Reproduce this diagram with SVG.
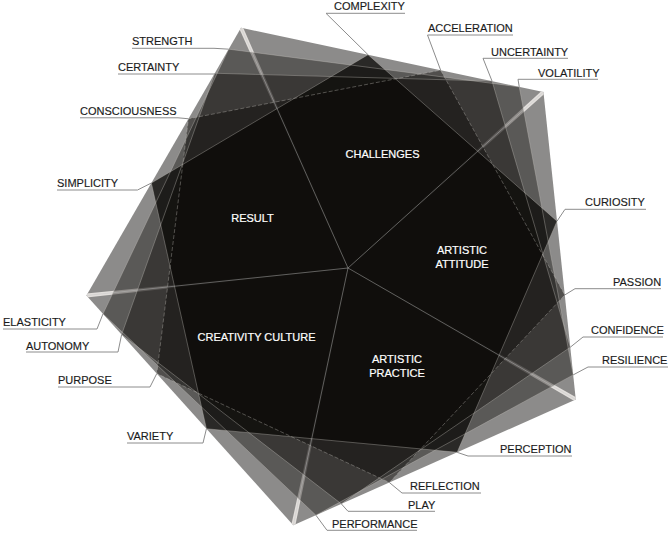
<svg xmlns="http://www.w3.org/2000/svg" width="671" height="534" viewBox="0 0 671 534">
<style>
.lay{fill:#0a0806}
.l0{fill-opacity:0.47}
.l1{fill-opacity:0.38}
.l2{fill-opacity:0.4}
.l3{fill-opacity:0.46}
.l4{fill-opacity:0.75}
.edge{fill:none;stroke:#c8c3be;stroke-opacity:0.45;stroke-width:0.8}
.dash{stroke-dasharray:4 2}
.wedge{fill:#ebe8e4;fill-opacity:0.9}
.sec{stroke:#c4c4c4;stroke-opacity:0.55;stroke-width:0.8;fill:none}
.lbl{font-family:"Liberation Sans",Arial,sans-serif;font-size:11px;fill:#1a1a1a;stroke:#1a1a1a;stroke-width:0.15}
.in{font-family:"Liberation Sans",Arial,sans-serif;font-size:11px;fill:#fff;stroke:#fff;stroke-width:0.2;text-anchor:middle}
.lead{fill:none;stroke:#8c8c8c;stroke-width:1}
</style>
<defs>
<clipPath id="outer"><polygon points="241.03,27.74 543.45,92.02 575.77,399.5 293.32,525.25 86.44,295.49"/></clipPath>
</defs>
<rect width="671" height="534" fill="#fff"/>
<g id="layers">
<polygon class="lay l0" points="241.03,27.74 543.45,92.02 575.77,399.5 293.32,525.25 86.44,295.49"/>
<g clip-path="url(#outer)">
<polygon class="wedge" points="242.86,26.93 239.2,28.55 347.63,268.16 348.37,267.84"/>
<polygon class="wedge" points="544.79,93.51 542.11,90.53 347.73,267.7 348.27,268.3"/>
<polygon class="wedge" points="574.77,401.23 576.77,397.77 348.2,267.65 347.8,268.35"/>
<polygon class="wedge" points="291.36,524.83 295.28,525.67 348.39,268.08 347.61,267.92"/>
<polygon class="wedge" points="86.23,293.5 86.65,297.48 348.04,268.4 347.96,267.6"/>
</g>
<polygon class="lay l1" points="519.26,86.88 573.18,374.9 315.92,515.19 102.99,313.87 228.66,49.16"/>
<polygon class="lay l2" points="492.04,81.09 570.28,347.23 341.34,503.87 121.61,334.55 214.75,73.26"/>
<polygon class="lay l3" points="440.63,70.16 564.78,294.96 389.35,482.49 156.78,373.61 188.47,118.77"/>
<polygon class="lay l4" points="368.05,54.74 557.02,221.16 457.14,452.32 206.43,428.75 151.37,183.03"/>
<polygon class="edge" points="519.26,86.88 573.18,374.9 315.92,515.19 102.99,313.87 228.66,49.16"/>
<polygon class="edge" points="492.04,81.09 570.28,347.23 341.34,503.87 121.61,334.55 214.75,73.26"/>
<polygon class="edge dash" points="440.63,70.16 564.78,294.96 389.35,482.49 156.78,373.61 188.47,118.77"/>
<polygon class="edge" points="368.05,54.74 557.02,221.16 457.14,452.32 206.43,428.75 151.37,183.03"/>
<path class="sec" d="M348,268L241.03,27.74M348,268L543.45,92.02M348,268L575.77,399.5M348,268L293.32,525.25M348,268L86.44,295.49"/>
</g>
<g id="node-challenges"><text class="in" x="382.5" y="158.3">CHALLENGES</text></g>
<g id="node-result"><text class="in" x="252.5" y="222.3">RESULT</text></g>
<g id="node-artistic-attitude"><text class="in" x="462" y="254.3">ARTISTIC</text><text class="in" x="462" y="267.7">ATTITUDE</text></g>
<g id="node-creativity-culture"><text class="in" x="256.5" y="341">CREATIVITY CULTURE</text></g>
<g id="node-artistic-practice"><text class="in" x="397" y="363.3">ARTISTIC</text><text class="in" x="397" y="376.7">PRACTICE</text></g>
<g id="connectors">
<path class="lead" d="M132,48.3H214L228.66,49.16"/>
<path class="lead" d="M118,74H214.75"/>
<path class="lead" d="M80,117.8H178L188.47,118.77"/>
<path class="lead" d="M57,190H137.5L151.37,183.03"/>
<path class="lead" d="M405,13.3H326L368.05,54.74"/>
<path class="lead" d="M513,35H427.5L440.63,70.16"/>
<path class="lead" d="M568,58.3H483L492.04,81.09"/>
<path class="lead" d="M598,79.3H518L519.26,86.88"/>
<path class="lead" d="M646,209.3H565L557.02,221.16"/>
<path class="lead" d="M661,288.7H575L564.78,294.96"/>
<path class="lead" d="M663,337H583L570.28,347.23"/>
<path class="lead" d="M668,367H588L573.18,374.9"/>
<path class="lead" d="M572,456H468L457.14,452.32"/>
<path class="lead" d="M481,493H402L389.35,482.49"/>
<path class="lead" d="M435,511.3H348L341.34,503.87"/>
<path class="lead" d="M417,530.3H327L315.92,515.19"/>
<path class="lead" d="M3,329H97L102.99,313.87"/>
<path class="lead" d="M26,352H118L121.61,334.55"/>
<path class="lead" d="M58,387H150L156.78,373.61"/>
<path class="lead" d="M127,443H203L206.43,428.75"/>
</g>
<g id="label-strength"><text class="lbl" x="132" y="45">STRENGTH</text></g>
<g id="label-certainty"><text class="lbl" x="118" y="70.7">CERTAINTY</text></g>
<g id="label-consciousness"><text class="lbl" x="80" y="115.3">CONSCIOUSNESS</text></g>
<g id="label-simplicity"><text class="lbl" x="57" y="187">SIMPLICITY</text></g>
<g id="label-complexity"><text class="lbl" x="334" y="10.3">COMPLEXITY</text></g>
<g id="label-acceleration"><text class="lbl" x="428" y="32.3">ACCELERATION</text></g>
<g id="label-uncertainty"><text class="lbl" x="491" y="55.5">UNCERTAINTY</text></g>
<g id="label-volatility"><text class="lbl" x="538" y="76.7">VOLATILITY</text></g>
<g id="label-curiosity"><text class="lbl" x="585" y="206.3">CURIOSITY</text></g>
<g id="label-passion"><text class="lbl" x="613" y="285.7">PASSION</text></g>
<g id="label-confidence"><text class="lbl" x="591" y="334.3">CONFIDENCE</text></g>
<g id="label-resilience"><text class="lbl" x="602" y="364.3">RESILIENCE</text></g>
<g id="label-perception"><text class="lbl" x="500" y="453">PERCEPTION</text></g>
<g id="label-reflection"><text class="lbl" x="410" y="490">REFLECTION</text></g>
<g id="label-play"><text class="lbl" x="408" y="508.5">PLAY</text></g>
<g id="label-performance"><text class="lbl" x="332" y="527.5">PERFORMANCE</text></g>
<g id="label-elasticity"><text class="lbl" x="3" y="326.3">ELASTICITY</text></g>
<g id="label-autonomy"><text class="lbl" x="26" y="349.5">AUTONOMY</text></g>
<g id="label-purpose"><text class="lbl" x="58" y="384.3">PURPOSE</text></g>
<g id="label-variety"><text class="lbl" x="127" y="440.3">VARIETY</text></g>
</svg>
